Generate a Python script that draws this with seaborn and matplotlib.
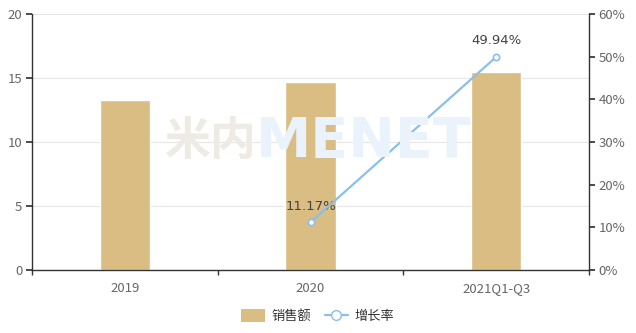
import matplotlib
matplotlib.use("Agg")
import matplotlib.pyplot as plt
import seaborn as sns
import pandas as pd
from matplotlib.lines import Line2D
from matplotlib.ticker import FuncFormatter

categories = ["2019", "2020", "2021Q1-Q3"]
sales = [13.28, 14.71, 15.47]
growth_cats = ["2020", "2021Q1-Q3"]
growth = [11.17, 49.94]
left_ticks = [0, 5, 10, 15, 20]
right_ticks = [0, 10, 20, 30, 40, 50, 60]

sns.set_theme(style="white")
plt.rcParams['font.family'] = ['Noto Sans CJK SC', 'DejaVu Sans']

fig = plt.figure(figsize=(6.36, 3.33), dpi=100)
ax = fig.add_axes([32/636, 63/333, 557/636, 256/333])

bar_color = "#d9bd83"
line_color = "#8bbfe8"
txt_color = "#666666"

# watermark
fig.text(165/636, 1-142/333, "米内", fontsize=33, fontweight="bold", color="#eeebe5",
         va="center", ha="left", zorder=0)
fig.text(256/636, 1-142/333, "MENET", fontsize=40, fontweight="bold", color="#eaf2fb",
         va="center", ha="left", family="DejaVu Sans", zorder=0)
ax.patch.set_alpha(0)

df = pd.DataFrame({"cat": categories, "sales": sales})
sns.barplot(data=df, x="cat", y="sales", ax=ax, color=bar_color, width=0.27,
            saturation=1, zorder=2)
ax.set_xlim(-0.5, 2.5)
ax.set_ylim(0, 20)
ax.set_yticks(left_ticks)
ax.set_xlabel("")
ax.set_ylabel("")
ax.grid(axis="y", color="#e6e6e6", linewidth=0.8, zorder=0)
ax.set_axisbelow(True)
for s in ["top", "right"]:
    ax.spines[s].set_visible(False)
for s in ["left", "bottom"]:
    ax.spines[s].set_color("#333333")
    ax.spines[s].set_linewidth(1)
ax.tick_params(axis="y", left=True, length=4, color="#333333", labelcolor=txt_color,
               labelsize=9.5, pad=3)
ax.tick_params(axis="x", bottom=False, labelcolor=txt_color, labelsize=9.5, pad=3)
ax.set_xticks([-0.5, 0.5, 1.5, 2.5], minor=True)
ax.tick_params(axis="x", which="minor", bottom=True, length=3.5, width=1, color="#333333")

ax2 = ax.twinx()
ax2.patch.set_alpha(0)
pos = {c: i for i, c in enumerate(categories)}
ldf = pd.DataFrame({"x": [pos[c] for c in growth_cats], "g": growth})
sns.lineplot(data=ldf, x="x", y="g", ax=ax2, color=line_color, linewidth=1.6,
             marker="o", markersize=4.5, markerfacecolor="white",
             markeredgecolor=line_color, markeredgewidth=1.2, zorder=5)
ax2.set_ylim(0, 60)
ax2.set_xlim(-0.5, 2.5)
ax2.set_yticks(right_ticks)
ax2.yaxis.set_major_formatter(FuncFormatter(lambda v, p: f"{v:.0f}%"))
ax2.set_xlabel("")
ax2.set_ylabel("")
for s in ["top", "left", "bottom"]:
    ax2.spines[s].set_visible(False)
ax2.spines["right"].set_color("#333333")
ax2.spines["right"].set_linewidth(1)
ax2.tick_params(axis="y", right=True, length=4, color="#333333", labelcolor=txt_color,
                labelsize=9.5, pad=3)
ax2.grid(False)
for x, g in zip(ldf["x"], ldf["g"]):
    ax2.annotate(f"{g:.2f}%", (x, g), xytext=(0, 7), textcoords="offset points",
                 ha="center", va="bottom", fontsize=9.5, color="#444444",
                 family="DejaVu Sans")

# legend
handles = [
    plt.Rectangle((0, 0), 1, 1, facecolor=bar_color, edgecolor="none"),
    Line2D([0], [0], color=line_color, linewidth=1.6, marker="o", markersize=7,
           markerfacecolor="white", markeredgecolor=line_color),
]
fig.legend(handles, ["销售额", "增长率"], loc="center", bbox_to_anchor=(0.5, 1-316/333),
           ncol=2, frameon=False, fontsize=9.5, labelcolor="#333333",
           handlelength=1.8, handleheight=1.1, columnspacing=1.0, handletextpad=0.5)

fig.savefig("out.png", dpi=100)
